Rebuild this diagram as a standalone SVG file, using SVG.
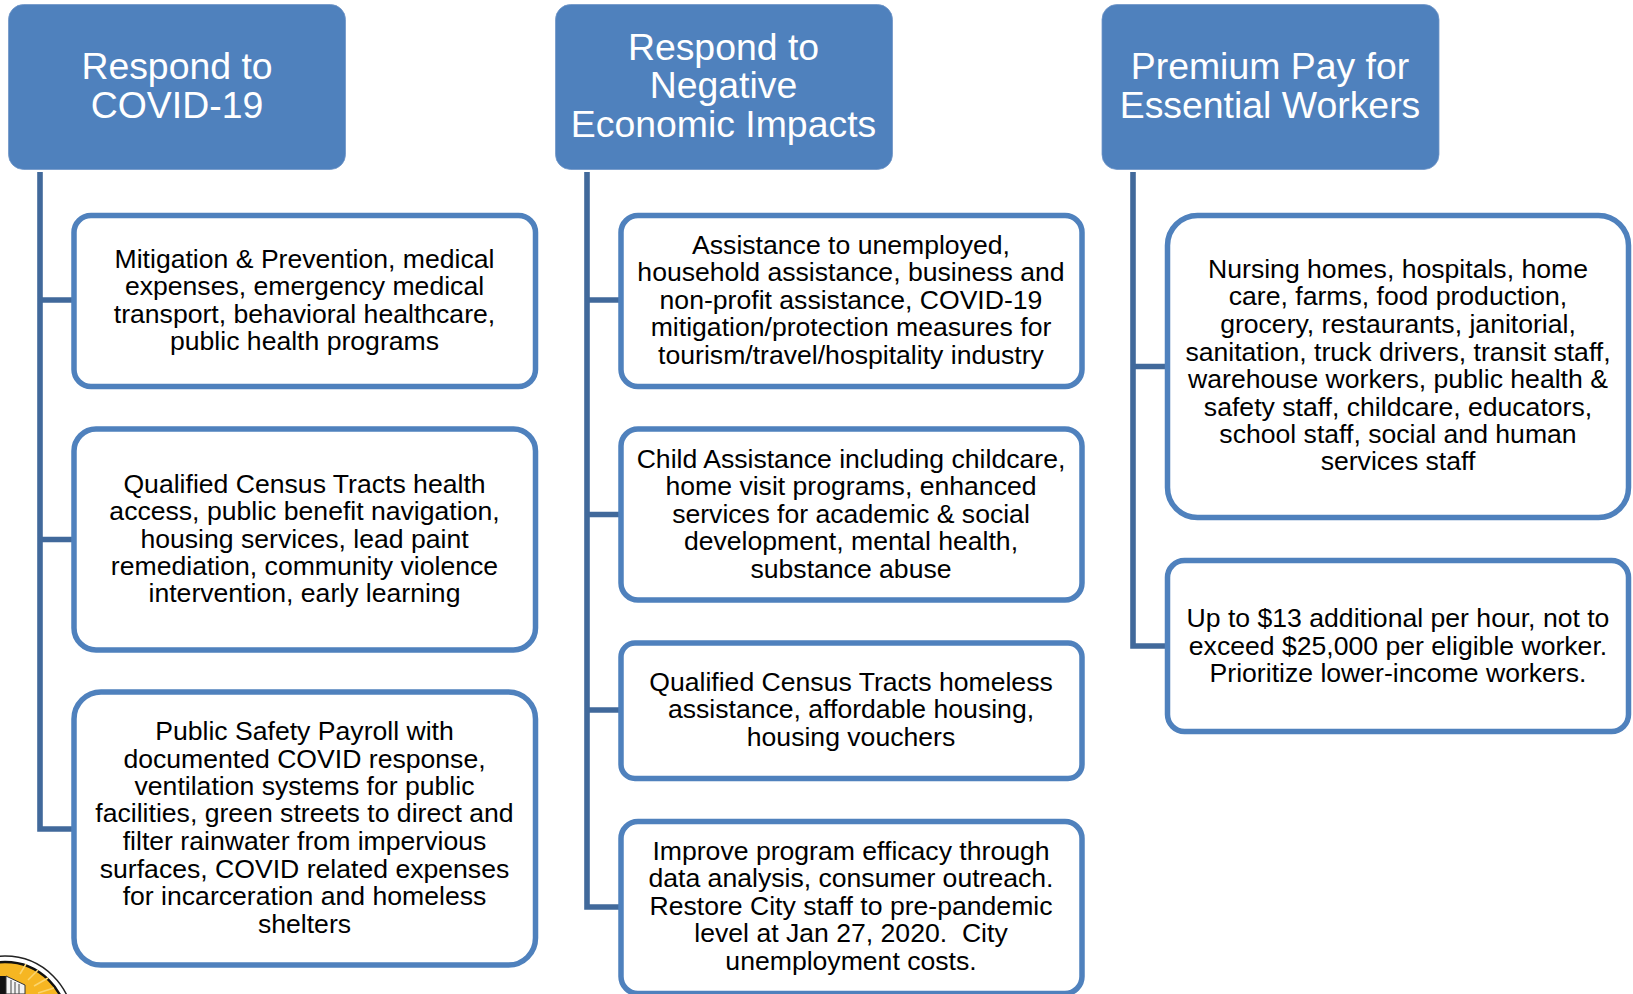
<svg xmlns="http://www.w3.org/2000/svg" width="1633" height="994" viewBox="0 0 1633 994">
<style>
.h{fill:#4f81bd;stroke:#7096c8;stroke-width:.8}
.c{fill:#fff;stroke:#4f81bd;stroke-width:5.500}
.l{fill:none;stroke:#41699b;stroke-width:5.600}
text{font-family:"Liberation Sans",Arial,sans-serif;text-anchor:middle;white-space:pre}
.ht{font-size:37.400px;fill:#fff}
.t{font-size:26.600px;fill:#000}
.r{stroke:#fbd56e;stroke-width:1.500;fill:none}
</style>
<rect width="1633" height="994" fill="#fff"/>
<g id="connectors">
<path class="l" d="M40 172V829H72M40 300H72M40 539.500H72"/>
<path class="l" d="M587 172V907H619M587 300H619M587 514.500H619M587 710H619"/>
<path class="l" d="M1133 172V646H1165M1133 366.500H1165"/>
</g>
<g id="logo">
<circle cx="5" cy="1024" r="68" fill="#fff" stroke="#222" stroke-width="1.500"/>
<circle cx="5" cy="1024" r="62" fill="#f6b622" stroke="#111" stroke-width="2.500"/>
<path class="r" d="M20 974L26 964M28 980L38 970M34 986L48 978M38 993L54 988"/>
<rect x="0" y="976" width="6" height="18" fill="#111"/>
<path d="M6 976L25 985V994H6Z" fill="#f2f2f2" stroke="#333" stroke-width="1"/>
<path d="M11 980V994M15 982V994M19 984V994" stroke="#444" stroke-width="1"/>
</g>
<g id="h1"><rect class="h" x="8.500" y="4.500" width="337" height="165" rx="15"/><text class="ht" x="177" y="79">Respond to</text><text class="ht" x="177" y="117.500">COVID-19</text></g>
<g id="h2"><rect class="h" x="555.500" y="4.500" width="337" height="165" rx="15"/><text class="ht" x="723.500" y="60">Respond to</text><text class="ht" x="723.500" y="98">Negative</text><text class="ht" x="723.500" y="137">Economic Impacts</text></g>
<g id="h3"><rect class="h" x="1102" y="4.500" width="337" height="165" rx="15"/><text class="ht" x="1270" y="79">Premium Pay for</text><text class="ht" x="1270" y="117.500">Essential Workers</text></g>
<g id="a1"><rect class="c" x="74" y="215.500" width="461.500" height="171" rx="17"/><text class="t" x="304.500" y="268">Mitigation &amp; Prevention, medical</text><text class="t" x="304.500" y="295">expenses, emergency medical</text><text class="t" x="304.500" y="323">transport, behavioral healthcare,</text><text class="t" x="304.500" y="350">public health programs</text></g>
<g id="a2"><rect class="c" x="74" y="429" width="461.500" height="221" rx="22"/><text class="t" x="304.500" y="492.500">Qualified Census Tracts health</text><text class="t" x="304.500" y="519.500">access, public benefit navigation,</text><text class="t" x="304.500" y="547.500">housing services, lead paint</text><text class="t" x="304.500" y="574.500">remediation, community violence</text><text class="t" x="304.500" y="602">intervention, early learning</text></g>
<g id="a3"><rect class="c" x="74" y="692" width="461.500" height="273" rx="27"/><text class="t" x="304.500" y="740">Public Safety Payroll with</text><text class="t" x="304.500" y="767.500">documented COVID response,</text><text class="t" x="304.500" y="795">ventilation systems for public</text><text class="t" x="304.500" y="822">facilities, green streets to direct and</text><text class="t" x="304.500" y="850">filter rainwater from impervious</text><text class="t" x="304.500" y="878">surfaces, COVID related expenses</text><text class="t" x="304.500" y="905">for incarceration and homeless</text><text class="t" x="304.500" y="933">shelters</text></g>
<g id="b1"><rect class="c" x="621" y="215.500" width="461" height="171" rx="17"/><text class="t" x="851" y="254">Assistance to unemployed,</text><text class="t" x="851" y="281">household assistance, business and</text><text class="t" x="851" y="309">non-profit assistance, COVID-19</text><text class="t" x="851" y="336">mitigation/protection measures for</text><text class="t" x="851" y="364">tourism/travel/hospitality industry</text></g>
<g id="b2"><rect class="c" x="621" y="429" width="461" height="171" rx="17"/><text class="t" x="851" y="467.500">Child Assistance including childcare,</text><text class="t" x="851" y="495">home visit programs, enhanced</text><text class="t" x="851" y="522.500">services for academic &amp; social</text><text class="t" x="851" y="550">development, mental health,</text><text class="t" x="851" y="577.500">substance abuse</text></g>
<g id="b3"><rect class="c" x="621" y="643" width="461" height="135.500" rx="14"/><text class="t" x="851" y="691">Qualified Census Tracts homeless</text><text class="t" x="851" y="718">assistance, affordable housing,</text><text class="t" x="851" y="746">housing vouchers</text></g>
<g id="b4"><rect class="c" x="621" y="821.500" width="461" height="172" rx="17"/><text class="t" x="851" y="860">Improve program efficacy through</text><text class="t" x="851" y="887">data analysis, consumer outreach.</text><text class="t" x="851" y="915">Restore City staff to pre-pandemic</text><text class="t" x="851" y="942">level at Jan 27, 2020.  City</text><text class="t" x="851" y="970">unemployment costs.</text></g>
<g id="c1"><rect class="c" x="1167.500" y="215.500" width="461" height="302" rx="30"/><text class="t" x="1398" y="277.500">Nursing homes, hospitals, home</text><text class="t" x="1398" y="305">care, farms, food production,</text><text class="t" x="1398" y="332.500">grocery, restaurants, janitorial,</text><text class="t" x="1398" y="360.500">sanitation, truck drivers, transit staff,</text><text class="t" x="1398" y="388">warehouse workers, public health &amp;</text><text class="t" x="1398" y="415.500">safety staff, childcare, educators,</text><text class="t" x="1398" y="443">school staff, social and human</text><text class="t" x="1398" y="470">services staff</text></g>
<g id="c2"><rect class="c" x="1167.500" y="560.500" width="461" height="171" rx="17"/><text class="t" x="1398" y="627">Up to $13 additional per hour, not to</text><text class="t" x="1398" y="654.500">exceed $25,000 per eligible worker.</text><text class="t" x="1398" y="682">Prioritize lower-income workers.</text></g>
</svg>
